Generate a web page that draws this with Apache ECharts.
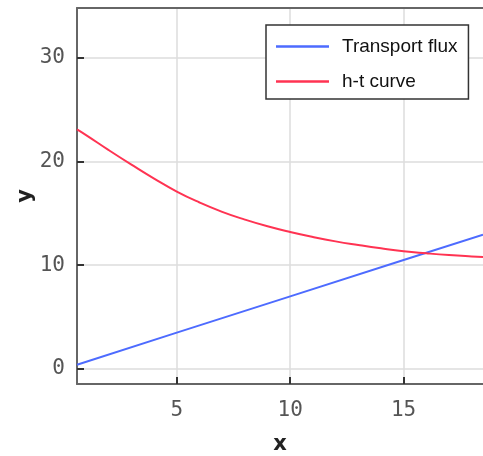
<!DOCTYPE html>
<html>
<head>
<meta charset="utf-8">
<script src="https://cdn.jsdelivr.net/npm/echarts@6/dist/echarts.min.js"></script>
<style>
  html, body { margin: 0; padding: 0; background: #fff; }
  #chart { width: 483px; height: 456px; }
</style>
</head>
<body>
<div id="chart"></div>
<script>
// values
const fluxX = [0.6, 5, 10, 15, 18.5];
const fluxY = [0.4, 3.5, 7.0, 10.5, 12.95];

const curveX = [0.6, 1, 2, 3, 4, 5, 6, 7, 8, 9, 10, 11, 12, 13, 14, 15, 16, 17, 18, 18.5];
const curveY = [23.1, 22.55, 21.1, 19.7, 18.35, 17.1, 16.05, 15.15, 14.4, 13.75, 13.2, 12.72, 12.3, 11.95, 11.63, 11.35, 11.15, 10.98, 10.85, 10.8];

const xTicks = [5, 10, 15];
const yTicks = [0, 10, 20, 30];

const seriesNames = ['Transport flux', 'h-t curve'];

const zip = (xs, ys) => xs.map((x, i) => [x, ys[i]]);

const chart = echarts.init(document.getElementById('chart'));

const tickLabel = {
  fontFamily: 'DejaVu Sans Mono',
  fontSize: 21,
  color: '#555'
};
const axisFrame = { show: true, onZero: false, lineStyle: { color: '#666', width: 2 } };
const nameStyle = { fontFamily: 'DejaVu Sans', fontWeight: 'bold', fontSize: 21, color: '#222' };

chart.setOption({
  animation: false,
  backgroundColor: '#fff',
  grid: {
    left: 77, top: 8, right: 0, bottom: 72,
    outerBoundsMode: 'none',
    containLabel: false
  },
  legend: {
    orient: 'vertical',
    left: 266,
    top: 25,
    data: seriesNames,
    icon: 'rect',
    itemWidth: 53,
    itemHeight: 2.5,
    itemGap: 16,
    padding: [12, 11, 8, 10],
    backgroundColor: '#fff',
    borderColor: '#333',
    borderWidth: 1.5,
    textStyle: {
      fontFamily: 'Liberation Sans',
      fontSize: 19,
      color: '#111',
      padding: [0, 0, 0, 8]
    }
  },
  xAxis: [
    {
      type: 'value',
      min: 0.6,
      max: 18.5,
      name: 'x',
      nameLocation: 'middle',
      nameGap: 50,
      nameMoveOverlap: false,
      nameTextStyle: nameStyle,
      axisLine: axisFrame,
      axisTick: { show: true, inside: true, length: 7, customValues: xTicks, lineStyle: { color: '#333', width: 2 } },
      axisLabel: Object.assign({ margin: 16, customValues: xTicks }, tickLabel),
      splitLine: { show: true, lineStyle: { color: '#ddd', width: 1.5 } }
    },
    {
      // top frame line only
      type: 'value',
      position: 'top',
      min: 0.6,
      max: 18.5,
      axisLine: axisFrame,
      axisTick: { show: false },
      axisLabel: { show: false },
      splitLine: { show: false }
    }
  ],
  yAxis: {
    type: 'value',
    min: -1.45,
    max: 34.8,
    name: 'y',
    nameLocation: 'middle',
    nameGap: 41,
    nameMoveOverlap: false,
    nameTextStyle: nameStyle,
    axisLine: axisFrame,
    axisTick: { show: true, inside: true, length: 7, customValues: yTicks, lineStyle: { color: '#333', width: 2 } },
    axisLabel: Object.assign({ margin: 12, customValues: yTicks }, tickLabel),
    splitLine: { show: true, lineStyle: { color: '#ddd', width: 1.5 } }
  },
  series: [
    {
      name: seriesNames[0],
      type: 'line',
      data: zip(fluxX, fluxY),
      symbol: 'none',
      color: '#4d6bff',
      lineStyle: { color: '#4d6bff', width: 2 }
    },
    {
      name: seriesNames[1],
      type: 'line',
      data: zip(curveX, curveY),
      smooth: 0.5,
      symbol: 'none',
      color: '#ff3352',
      lineStyle: { color: '#ff3352', width: 2 }
    }
  ]
});
</script>
</body>
</html>
